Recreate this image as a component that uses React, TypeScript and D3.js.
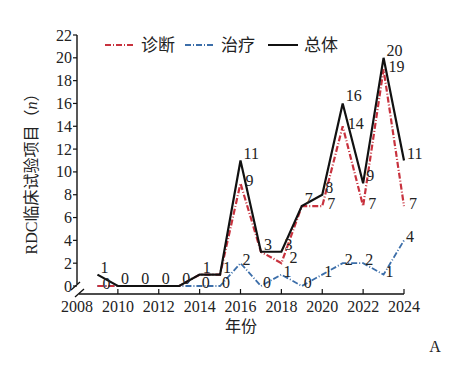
import React from 'react';
import * as d3 from 'd3';

const years = [2009, 2010, 2011, 2012, 2013, 2014, 2015, 2016, 2017, 2018, 2019, 2020, 2021, 2022, 2023, 2024];
const diagnosis = [0, 0, 0, 0, 0, 1, 1, 9, 3, 2, 7, 7, 14, 7, 19, 7];
const treatment = [0, 0, 0, 0, 0, 0, 0, 2, 0, 1, 0, 1, 2, 2, 1, 4];
const total = [1, 0, 0, 0, 0, 1, 1, 11, 3, 3, 7, 8, 16, 9, 20, 11];

const xTicks = [2008, 2010, 2012, 2014, 2016, 2018, 2020, 2022, 2024];
const yTicks = [0, 2, 4, 6, 8, 10, 12, 14, 16, 18, 20, 22];

const seriesNames = ['诊断', '治疗', '总体'];

const RED = '#c8323e';
const BLUE = '#3c6ea9';
const serif = '"Liberation Serif", "DejaVu Serif", serif';
const cjk = '"Liberation Serif", "Noto Sans CJK SC", serif';

export default function App() {
  const width = 461;
  const height = 375;

  const x = d3.scaleLinear().domain([2008, 2024]).range([77, 404]);
  const y = d3.scaleLinear().domain([0, 22]).range([286, 35]);
  const axisY = 294;

  const line = d3.line<number>()
    .x((_, i) => x(years[i]))
    .y(d => y(d));

  // value labels: skip a label when it repeats the one above it
  const labels: { x: number; y: number; t: number; key: string }[] = [];
  years.forEach((yr, i) => {
    labels.push({ x: x(yr) + 3, y: y(total[i]) - 2, t: total[i], key: 't' + i });
    if (diagnosis[i] !== total[i]) {
      const tight = diagnosis[i] > 0 && diagnosis[i] - treatment[i] <= 1;
      labels.push({ x: x(yr) + (tight ? 8 : 5), y: y(diagnosis[i]) + (tight ? -0.5 : 3), t: diagnosis[i], key: 'd' + i });
    }
    if (treatment[i] !== total[i] && treatment[i] !== diagnosis[i]) {
      labels.push({ x: x(yr) + 2, y: y(treatment[i]) + 2, t: treatment[i], key: 'r' + i });
    }
  });

  const legend = [
    { name: seriesNames[0], color: RED, dash: '6,2,1,2', x0: 105 },
    { name: seriesNames[1], color: BLUE, dash: '6,2,1,2', x0: 185 },
    { name: seriesNames[2], color: '#111', dash: null, x0: 268 },
  ];

  return (
    <svg width={width} height={height} style={{ position: 'fixed', left: 0, top: 0, background: '#fff' }}>
      {/* axes with break at the origin */}
      <line x1={77} x2={77} y1={y(22)} y2={284} stroke="#111" strokeWidth={1.4} />
      <line x1={79} x2={404} y1={axisY} y2={axisY} stroke="#111" strokeWidth={1.4} />
      <line x1={71} y1={290} x2={80} y2={282} stroke="#111" strokeWidth={1.4} />
      <line x1={75} y1={297} x2={84} y2={289} stroke="#111" strokeWidth={1.4} />
      {yTicks.map(t => (
        <g key={'y' + t}>
          <line x1={73} x2={77} y1={y(t)} y2={y(t)} stroke="#111" strokeWidth={1.2} />
          <text x={72} y={y(t) + 5.5} textAnchor="end" fontFamily={serif} fontSize={16} fill="#222">{t}</text>
        </g>
      ))}
      {xTicks.map(t => (
        <g key={'x' + t}>
          {t !== 2008 && <line x1={x(t)} x2={x(t)} y1={axisY} y2={axisY - 5} stroke="#111" strokeWidth={1.2} />}
          <text x={x(t)} y={312} textAnchor="middle" fontFamily={serif} fontSize={16} fill="#222">{t}</text>
        </g>
      ))}
      <text x={241} y={332} textAnchor="middle" fontFamily={cjk} fontSize={16} fill="#222">年份</text>
      <text transform="translate(37,170) rotate(-90)" textAnchor="middle" fontFamily={cjk} fontSize={16} fill="#222">
        RDC临床试验项目（<tspan fontStyle="italic">n</tspan>）
      </text>

      {/* series */}
      <path d={line(treatment) || ''} fill="none" stroke={BLUE} strokeWidth={1.8} strokeDasharray="6,2,1,2" />
      <path d={line(diagnosis) || ''} fill="none" stroke={RED} strokeWidth={2.2} strokeDasharray="6,2,1,2" />
      <path d={line(total) || ''} fill="none" stroke="#111" strokeWidth={2.2} />

      {labels.map(l => (
        <text key={l.key} x={l.x} y={l.y} fontFamily={serif} fontSize={16} fill="#222">{l.t}</text>
      ))}

      {/* legend */}
      {legend.map(l => (
        <g key={l.name}>
          <line x1={l.x0} x2={l.x0 + 30} y1={45} y2={45} stroke={l.color} strokeWidth={2}
            strokeDasharray={l.dash || undefined} />
          <text x={l.x0 + 36} y={51} fontFamily={cjk} fontSize={17} fill="#222">{l.name}</text>
        </g>
      ))}

      <text x={435} y={352} textAnchor="middle" fontFamily={serif} fontSize={16} fill="#222">A</text>
    </svg>
  );
}
